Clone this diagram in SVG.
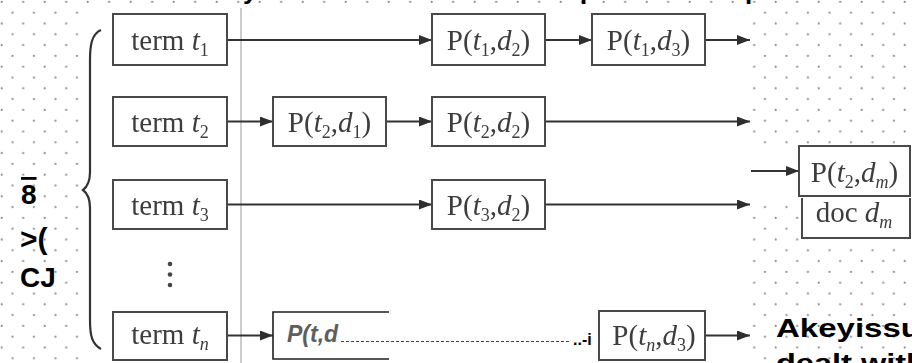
<svg xmlns="http://www.w3.org/2000/svg" width="912" height="363" viewBox="0 0 912 363">
  <defs>
    <pattern id="dots" patternUnits="userSpaceOnUse" width="21.5" height="21.6">
      <circle cx="1.7" cy="1.9" r="1.1" fill="#8c8c8c"/>
      <circle cx="12.45" cy="12.7" r="1.1" fill="#8c8c8c"/>
    </pattern>
    <marker id="arr" viewBox="0 0 13 10" refX="13" refY="5" markerWidth="13" markerHeight="10" markerUnits="userSpaceOnUse" orient="auto">
      <path d="M0,0 L13,5 L0,10 z" fill="#2e2e2e"/>
    </marker>
    <filter id="soft" x="-5%" y="-5%" width="110%" height="110%">
      <feGaussianBlur stdDeviation="0.55"/>
    </filter>
  </defs>
  <style>
    .box{fill:#fff;stroke:#4a4a4a;stroke-width:2}
    .ln{stroke:#333;stroke-width:2;fill:none}
    .tx{font-family:"Liberation Serif","Times New Roman",serif;font-size:29px;fill:#3c3c3c}
    .it{font-style:italic}
    .sub{font-size:18px}
    .ocr{font-family:"Liberation Sans",Arial,sans-serif;font-weight:bold;fill:#000}
  </style>

  <!-- page background with dotted texture, scanned figure area on top -->
  <rect width="912" height="363" fill="#fff"/>
  <rect width="912" height="363" fill="url(#dots)"/>
  <rect x="80" y="8" width="670" height="355" fill="#fff"/>

  <!-- partial line of text above the top edge -->
  <g class="ocr" font-size="26">
    <text x="243" y="-1">y</text>
    <text x="580" y="-1">p</text>
    <text x="745" y="-1">p</text>
  </g>

  <!-- left margin labels -->
  <g class="ocr" font-size="28">
    <text x="21" y="204" style="text-decoration:overline">8</text>
    <text x="20" y="249" font-size="30">&gt;(</text>
    <text x="20" y="287">CJ</text>
  </g>

  <g filter="url(#soft)">
    <!-- divider and brace -->
    <line x1="241" y1="8" x2="241" y2="363" stroke="#9a9a9a" stroke-width="1"/>
    <path d="M101,30 C92,34 90,44 90,60 L90,172 C90,182 87,187 83,190 C87,193 90,198 90,208 L90,320 C90,336 92,344 101,349" fill="none" stroke="#333" stroke-width="2.2"/>

    <g id="connectors">
      <line class="ln" x1="227" y1="40" x2="432" y2="40" marker-end="url(#arr)"/>
      <line class="ln" x1="545" y1="40" x2="592" y2="40" marker-end="url(#arr)"/>
      <line class="ln" x1="705" y1="40" x2="750" y2="40" marker-end="url(#arr)"/>
      <line class="ln" x1="227" y1="121.5" x2="273" y2="121.5" marker-end="url(#arr)"/>
      <line class="ln" x1="386" y1="121.5" x2="432" y2="121.5" marker-end="url(#arr)"/>
      <line class="ln" x1="545" y1="121.5" x2="750" y2="121.5" marker-end="url(#arr)"/>
      <line class="ln" x1="227" y1="204.5" x2="432" y2="204.5" marker-end="url(#arr)"/>
      <line class="ln" x1="545" y1="204.5" x2="750" y2="204.5" marker-end="url(#arr)"/>
      <line class="ln" x1="227" y1="335.5" x2="273" y2="335.5" marker-end="url(#arr)"/>
      <line class="ln" x1="705" y1="335.5" x2="750" y2="335.5" marker-end="url(#arr)"/>
    </g>

    <g id="term-t1">
      <rect class="box" x="113" y="14" width="114" height="51"/>
      <text class="tx" x="170" y="50" text-anchor="middle">term <tspan class="it">t</tspan><tspan class="sub" dy="6">1</tspan></text>
    </g>
    <g id="term-t2">
      <rect class="box" x="113" y="97" width="114" height="49"/>
      <text class="tx" x="170" y="132" text-anchor="middle">term <tspan class="it">t</tspan><tspan class="sub" dy="6">2</tspan></text>
    </g>
    <g id="term-t3">
      <rect class="box" x="113" y="180" width="114" height="49"/>
      <text class="tx" x="170" y="215" text-anchor="middle">term <tspan class="it">t</tspan><tspan class="sub" dy="6">3</tspan></text>
    </g>
    <g id="term-ellipsis" fill="#444">
      <circle cx="170" cy="264" r="2.3"/>
      <circle cx="170" cy="274.5" r="2.3"/>
      <circle cx="170" cy="285" r="2.3"/>
    </g>
    <g id="term-tn">
      <rect class="box" x="113" y="312" width="114" height="48"/>
      <text class="tx" x="170" y="344" text-anchor="middle">term <tspan class="it">t</tspan><tspan class="sub it" dy="6">n</tspan></text>
    </g>

    <g id="p-t1-d2">
      <rect class="box" x="432" y="14" width="113" height="51"/>
      <text class="tx" x="488.5" y="50" text-anchor="middle">P(<tspan class="it">t</tspan><tspan class="sub" dy="6">1</tspan><tspan dy="-6">,</tspan><tspan class="it">d</tspan><tspan class="sub" dy="6">2</tspan><tspan dy="-6">)</tspan></text>
    </g>
    <g id="p-t1-d3">
      <rect class="box" x="592" y="14" width="113" height="51"/>
      <text class="tx" x="648.5" y="50" text-anchor="middle">P(<tspan class="it">t</tspan><tspan class="sub" dy="6">1</tspan><tspan dy="-6">,</tspan><tspan class="it">d</tspan><tspan class="sub" dy="6">3</tspan><tspan dy="-6">)</tspan></text>
    </g>
    <g id="p-t2-d1">
      <rect class="box" x="273" y="97" width="113" height="49"/>
      <text class="tx" x="329.5" y="132" text-anchor="middle">P(<tspan class="it">t</tspan><tspan class="sub" dy="6">2</tspan><tspan dy="-6">,</tspan><tspan class="it">d</tspan><tspan class="sub" dy="6">1</tspan><tspan dy="-6">)</tspan></text>
    </g>
    <g id="p-t2-d2">
      <rect class="box" x="432" y="97" width="113" height="49"/>
      <text class="tx" x="488.5" y="132" text-anchor="middle">P(<tspan class="it">t</tspan><tspan class="sub" dy="6">2</tspan><tspan dy="-6">,</tspan><tspan class="it">d</tspan><tspan class="sub" dy="6">2</tspan><tspan dy="-6">)</tspan></text>
    </g>
    <g id="p-t3-d2">
      <rect class="box" x="432" y="180" width="113" height="49"/>
      <text class="tx" x="488.5" y="215" text-anchor="middle">P(<tspan class="it">t</tspan><tspan class="sub" dy="6">3</tspan><tspan dy="-6">,</tspan><tspan class="it">d</tspan><tspan class="sub" dy="6">2</tspan><tspan dy="-6">)</tspan></text>
    </g>
    <g id="p-tn-d3">
      <rect class="box" x="599" y="311" width="106" height="49"/>
      <text class="tx" x="654" y="345" text-anchor="middle">P(<tspan class="it">t</tspan><tspan class="sub it" dy="6">n</tspan><tspan dy="-6">,</tspan><tspan class="it">d</tspan><tspan class="sub" dy="6">3</tspan><tspan dy="-6">)</tspan></text>
    </g>
  </g>

  <!-- retyped cell on the last row -->
  <g id="p-tn-d1">
    <path d="M389,312 H273 V359 H389" fill="none" stroke="#1e1e1e" stroke-width="1.6"/>
    <text x="287" y="342" font-family="'Liberation Sans',Arial,sans-serif" font-style="italic" font-weight="bold" font-size="23" fill="#5e5e5e">P(t,d</text>
    <line x1="341" y1="341.5" x2="569" y2="341.5" stroke="#444" stroke-width="1" stroke-dasharray="3,2"/>
    <text class="ocr" x="573" y="345" font-size="16">..-i</text>
  </g>

  <!-- document column on the right edge -->
  <g id="doc-dm" filter="url(#soft)">
    <rect x="800" y="190" width="112" height="52" fill="#fff"/>
    <rect class="box" x="802" y="190" width="108" height="48"/>
    <text class="tx" x="854" y="222" text-anchor="middle">doc <tspan class="it">d</tspan><tspan class="sub it" dy="6">m</tspan></text>
  </g>
  <g id="p-t2-dm" filter="url(#soft)">
    <rect x="750" y="144" width="162" height="54" fill="#fff"/>
    <line class="ln" x1="751" y1="171" x2="799" y2="171" marker-end="url(#arr)"/>
    <rect class="box" x="799" y="146" width="111" height="50"/>
    <text class="tx" x="854.5" y="182" text-anchor="middle">P(<tspan class="it">t</tspan><tspan class="sub" dy="6">2</tspan><tspan dy="-6">,</tspan><tspan class="it">d</tspan><tspan class="sub it" dy="6">m</tspan><tspan dy="-6">)</tspan></text>
  </g>

  <!-- caption text at the lower right -->
  <g class="ocr" font-size="25">
    <text x="776" y="337" textLength="145" lengthAdjust="spacingAndGlyphs">Akeyissu</text>
    <text x="776" y="372" textLength="150" lengthAdjust="spacingAndGlyphs">dealt with</text>
  </g>
</svg>
